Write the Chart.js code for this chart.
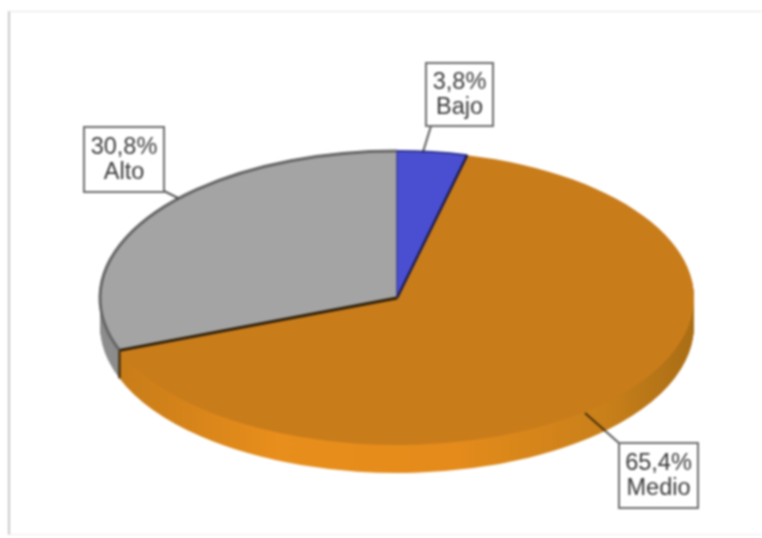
<!DOCTYPE html>
<html>
<head>
<meta charset="utf-8">
<style>
html,body{margin:0;padding:0;background:#fff;width:762px;height:538px;overflow:hidden}
#frame{position:absolute;left:8px;top:11px;width:754px;height:524px;box-sizing:border-box;border-left:2px solid #c9c9c9;border-top:1px solid #e6e6e6;border-bottom:1px solid #ececec;filter:blur(0.8px)}
#wrap{position:absolute;left:0;top:0;width:762px;height:538px;filter:blur(0.9px)}
canvas{display:block}
</style>
<script src="https://cdn.jsdelivr.net/npm/chart.js@4"></script>
</head>
<body>
<div id="frame"></div>
<div id="wrap"><canvas id="c" width="762" height="538"></canvas></div>
<script>
const categories = ['Bajo', 'Medio', 'Alto'];
const values = [3.8, 65.4, 30.8];
const percentLabels = ['3,8%', '65,4%', '30,8%'];
const topColors = ['#4a4fd2', '#c97c1a', '#a4a4a4'];

const TILT = 147 / 297;
const DEPTH = 28;

// label boxes and leader lines, in canvas pixels
const callouts = [
  {box:[426,63,67,63], line:[[423,152],[431,126]]},
  {box:[619,443,79,65], line:[[585,413],[620,444]]},
  {box:[84,127,80,65], line:[[178,198],[162,190]]}
];

function tilt(ctx, cx, cy, dy){
  ctx.translate(cx, cy + dy);
  ctx.scale(1, TILT);
  ctx.translate(-cx, -cy);
}

const tiltedPie = {
  id: 'tiltedPie',
  beforeDatasetsDraw(chart){
    const ctx = chart.ctx;
    const arcs = chart.getDatasetMeta(0).data;
    const {x: cx, y: cy} = arcs[0];
    const R = arcs[0].outerRadius;
    const grad = ctx.createLinearGradient(cx - R, 0, cx + R, 0);
    grad.addColorStop(0, '#c47a18');
    grad.addColorStop(0.3, '#e88e1c');
    grad.addColorStop(0.6, '#e48b1b');
    grad.addColorStop(0.85, '#c9801a');
    grad.addColorStop(1, '#a96d15');
    const sides = ['#34378f', grad, '#8d8d8d'];
    for (let i = DEPTH; i >= 1; i--){
      ctx.save();
      tilt(ctx, cx, cy, i);
      arcs.forEach((arc, k) => {
        const o = arc.options;
        arc.options = {...o, backgroundColor: sides[k], borderWidth: 0};
        arc.draw(ctx);
        arc.options = o;
      });
      ctx.restore();
    }
    // dark edge where the orange wall meets the grey wall
    const end = arcs[1].endAngle;
    const ex = cx + Math.cos(end) * R, ey = cy + Math.sin(end) * R * TILT;
    ctx.save();
    ctx.strokeStyle = '#4a3410';
    ctx.lineWidth = 2.5;
    ctx.beginPath();
    ctx.moveTo(ex, ey);
    ctx.lineTo(ex, ey + DEPTH);
    ctx.stroke();
    ctx.restore();
    ctx.save();
    tilt(ctx, cx, cy, 0);
  },
  afterDatasetsDraw(chart){
    const ctx = chart.ctx;
    ctx.restore();
    const arcs = chart.getDatasetMeta(0).data;
    const {x: cx, y: cy} = arcs[0];
    const R = arcs[0].outerRadius;
    const pt = a => [cx + Math.cos(a) * R, cy + Math.sin(a) * R * TILT];
    const rim = (arc, color, w) => {
      ctx.save();
      ctx.strokeStyle = color;
      ctx.lineWidth = w;
      ctx.beginPath();
      ctx.ellipse(cx, cy, R, R * TILT, 0, arc.startAngle, arc.endAngle);
      ctx.stroke();
      ctx.restore();
    };
    rim(arcs[2], '#666666', 3);
    rim(arcs[0], '#2f3290', 2);
    const spoke = (a, color, w) => {
      const p = pt(a);
      ctx.strokeStyle = color;
      ctx.lineWidth = w;
      ctx.beginPath();
      ctx.moveTo(cx, cy);
      ctx.lineTo(p[0], p[1]);
      ctx.stroke();
    };
    spoke(arcs[0].startAngle, '#3c3f9a', 1.5);
    spoke(arcs[0].endAngle, '#1c1d50', 2.5);
    spoke(arcs[1].endAngle, '#2f200a', 3);

    // callouts
    ctx.save();
    callouts.forEach((c, i) => {
      ctx.globalCompositeOperation = 'multiply';
      ctx.strokeStyle = '#5a5a5a';
      ctx.lineWidth = 2;
      ctx.beginPath();
      ctx.moveTo(c.line[0][0], c.line[0][1]);
      ctx.lineTo(c.line[1][0], c.line[1][1]);
      ctx.stroke();
      ctx.globalCompositeOperation = 'source-over';
      ctx.fillStyle = '#fff';
      ctx.strokeStyle = '#6c6c6c';
      ctx.lineWidth = 2;
      ctx.fillRect(c.box[0], c.box[1], c.box[2], c.box[3]);
      ctx.strokeRect(c.box[0], c.box[1], c.box[2], c.box[3]);
      ctx.fillStyle = '#3a3a3a';
      ctx.font = '23.5px "Liberation Sans", Arial, sans-serif';
      ctx.textAlign = 'center';
      ctx.textBaseline = 'middle';
      const mx = c.box[0] + c.box[2] / 2, my = c.box[1] + c.box[3] / 2;
      ctx.fillText(percentLabels[i], mx, my - 12);
      ctx.fillText(categories[i], mx, my + 13);
    });
    ctx.restore();
  }
};

new Chart(document.getElementById('c'), {
  type: 'pie',
  data: {
    labels: categories,
    datasets: [{data: values, backgroundColor: topColors, borderWidth: 0, clip: false}]
  },
  options: {
    responsive: false,
    animation: false,
    radius: 297,
    layout: {padding: {left: 32, top: 58, right: 0, bottom: 0}},
    plugins: {legend: {display: false}, tooltip: {enabled: false}}
  },
  plugins: [tiltedPie]
});
</script>
</body>
</html>
